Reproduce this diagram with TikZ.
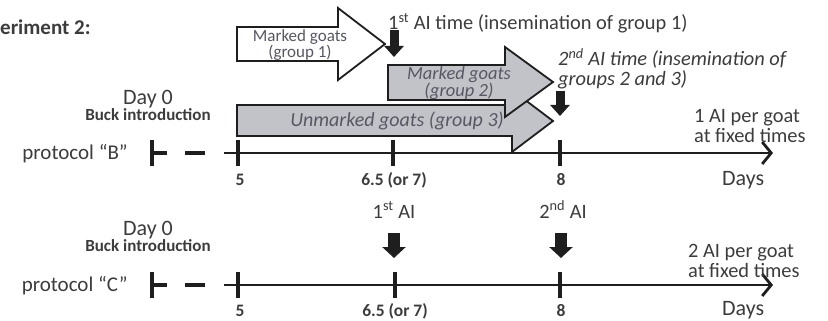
\documentclass[tikz,border=0pt]{standalone}
\usepackage{fontspec}
\setmainfont{Carlito}
\usetikzlibrary{arrows.meta}
\definecolor{txtgray}{HTML}{3C3C3C}
\definecolor{grptxt}{HTML}{585864}
\definecolor{grpfill}{HTML}{C2C2C9}
\definecolor{inkblack}{HTML}{1E1E1E}
\begin{document}
\begin{tikzpicture}[x=1pt,y=-1pt,
  lbl/.style={text=txtgray, inner sep=0pt, font=\fontsize{20.4}{20}\selectfont},
  daylbl/.style={text=txtgray, inner sep=0pt, font=\fontsize{22}{24}\selectfont},
  bucklbl/.style={text=txtgray, inner sep=0pt, font=\fontsize{17}{18}\selectfont\bfseries},
  protlbl/.style={text=txtgray, inner sep=0pt, font=\fontsize{21}{23}\selectfont},
  ticklbl/.style={text=txtgray, inner sep=0pt, font=\fontsize{17.5}{18}\selectfont\bfseries},
  grouptxt/.style={text=grptxt, inner sep=0pt, align=center},
  grparrow/.style={draw=inkblack, line width=1.8pt, line join=miter},
  mainaxis/.style={draw=inkblack, line width=2.6pt, -{Straight Barb[length=9pt,width=22pt,line width=2.8pt]}},
  dashpart/.style={draw=inkblack, line width=4.5pt},
  tickmark/.style={draw=inkblack, line width=3.2pt},
  blkarrowB/.style={draw=inkblack, line width=9pt, -{Triangle[length=11pt,width=19pt]}},
  blkarrowC/.style={draw=inkblack, line width=12pt, -{Triangle[length=11pt,width=23pt]}}
]
\useasboundingbox (0,0) rectangle (828,321);

% title
\node[text=txtgray, inner sep=0pt, anchor=base west, font=\fontsize{21}{22}\selectfont\bfseries] (title) at (0,34.5) {eriment 2:};

% ---- group arrows (protocol B) ----
\draw[grparrow, fill=grpfill] (237,105) -- (512,105) -- (512,90) -- (553,121) -- (512,152) -- (512,136) -- (237,136) -- cycle;
\draw[grparrow, fill=grpfill] (388,65) -- (505,65) -- (505,47) -- (553,82) -- (505,117) -- (505,100) -- (388,100) -- cycle;
\draw[grparrow, fill=white] (237,27) -- (338,27) -- (338,8) -- (385,44) -- (338,80) -- (338,61) -- (237,61) -- cycle;

\node[grouptxt, font=\fontsize{17}{16.5}\selectfont] (g1) at (300,45) {Marked goats\\(group 1)};
\node[grouptxt, font=\fontsize{18.5}{17}\selectfont\itshape] (g2) at (459,83) {Marked goats\\(group 2)};
\node[grouptxt, font=\fontsize{20}{16}\selectfont\itshape, anchor=center] (g3) at (397,121) {Unmarked goats (group 3)};

% AI labels protocol B
\node[lbl, anchor=base west] (ai1B) at (388,30) {1\textsuperscript{st} AI time (insemination of group 1)};
\node[lbl, anchor=west, align=left, font=\fontsize{20.4}{20}\selectfont\itshape] (ai2B) at (558,69) {2\textsuperscript{nd} AI time (insemination of\\groups 2 and 3)};

\coordinate (a1Bs) at (394,30);
\coordinate (a1Be) at (394,57);
\coordinate (a2Bs) at (560,91);
\coordinate (a2Be) at (560,116);
\draw[blkarrowB] (a1Bs) -- (a1Be);
\draw[blkarrowB] (a2Bs) -- (a2Be);

% ---- protocol B axis ----
\node[daylbl, anchor=base] (day0B) at (148,104) {Day 0};
\node[bucklbl, anchor=base] (buckB) at (148,120.5) {Buck introduction};
\node[protlbl, anchor=base east] (protB) at (128,159) {protocol “B”};

\coordinate (B0) at (152,153);
\coordinate (B0a) at (167,153);
\coordinate (Bd1) at (185,153);
\coordinate (Bd2) at (205,153);
\coordinate (Bst) at (224,153);
\coordinate (Bend) at (773,153);
\draw[tickmark, line width=4pt] (152,140) -- (152,166);
\draw[dashpart] (B0) -- (B0a);
\draw[dashpart] (Bd1) -- (Bd2);
\draw[mainaxis] (Bst) -- (Bend);
\draw[tickmark] (238,140) -- (238,166);
\draw[tickmark] (393,140) -- (393,166);
\draw[tickmark] (560,140) -- (560,166);

\node[ticklbl, anchor=base] (t5B) at (240,185) {5};
\node[ticklbl, anchor=base] (t65B) at (394,185) {6.5 (or 7)};
\node[ticklbl, anchor=base] (t8B) at (561,185) {8};
\node[lbl, anchor=base west, font=\fontsize{22}{23}\selectfont] (daysB) at (722,185) {Days};
\node[lbl, anchor=west, align=left] (perB) at (694,126) {1 AI per goat\\at fixed times};

% ---- protocol C axis ----
\node[daylbl, anchor=base] (day0C) at (148,235) {Day 0};
\node[bucklbl, anchor=base] (buckC) at (148,251.5) {Buck introduction};
\node[protlbl, anchor=base east] (protC) at (128,291) {protocol “C”};

\node[lbl, anchor=base] (ai1C) at (394,218) {1\textsuperscript{st} AI};
\node[lbl, anchor=base] (ai2C) at (563,218) {2\textsuperscript{nd} AI};
\coordinate (a1Cs) at (394,233);
\coordinate (a1Ce) at (394,258);
\coordinate (a2Cs) at (561,233);
\coordinate (a2Ce) at (561,258);
\draw[blkarrowC] (a1Cs) -- (a1Ce);
\draw[blkarrowC] (a2Cs) -- (a2Ce);

\coordinate (C0) at (152,285);
\coordinate (C0a) at (167,285);
\coordinate (Cd1) at (185,285);
\coordinate (Cd2) at (205,285);
\coordinate (Cst) at (224,285);
\coordinate (Cend) at (773,285);
\draw[tickmark, line width=4pt] (152,272) -- (152,298);
\draw[dashpart] (C0) -- (C0a);
\draw[dashpart] (Cd1) -- (Cd2);
\draw[mainaxis] (Cst) -- (Cend);
\draw[tickmark] (238,272) -- (238,298);
\draw[tickmark] (395,272) -- (395,298);
\draw[tickmark] (560,272) -- (560,298);

\node[ticklbl, anchor=base] (t5C) at (240,316) {5};
\node[ticklbl, anchor=base] (t65C) at (395,316) {6.5 (or 7)};
\node[ticklbl, anchor=base] (t8C) at (561,316) {8};
\node[lbl, anchor=base west, font=\fontsize{22}{23}\selectfont] (daysC) at (722,315.5) {Days};
\node[lbl, anchor=west, align=left] (perC) at (688,261) {2 AI per goat\\at fixed times};
\end{tikzpicture}
\end{document}
